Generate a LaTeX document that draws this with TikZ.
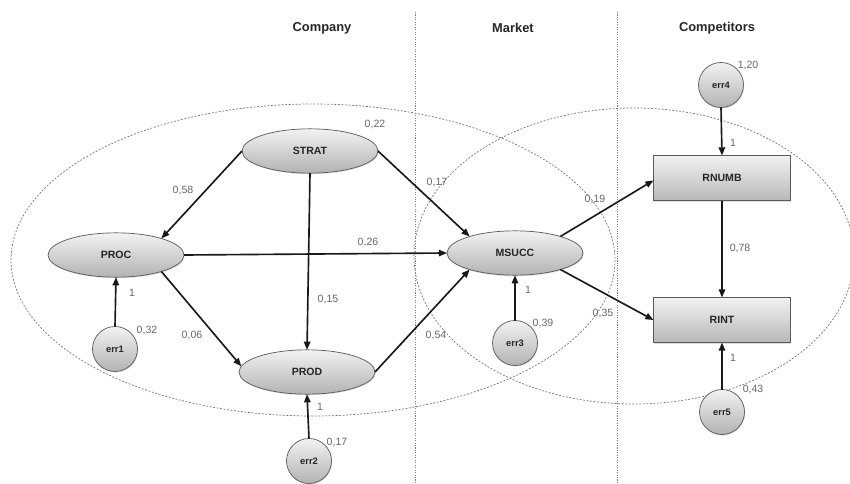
\documentclass[tikz,border=0pt]{standalone}
\usepackage{fontspec}
\setmainfont{Liberation Sans}
\usetikzlibrary{shapes.geometric,arrows.meta,shadows}

\begin{document}
\begin{tikzpicture}[x=0.03cm,y=-0.03cm,
        latent/.style={ellipse,draw=black!65,line width=0.6pt,top color=black!5,bottom color=black!30,
            minimum width=4.08cm,minimum height=1.33cm,inner sep=0pt,outer sep=0pt,
            font=\fontsize{9}{10}\selectfont\bfseries,text=black!85,
            drop shadow={opacity=0.25,shadow xshift=0.6pt,shadow yshift=-0.9pt}},
        observed/.style={rectangle,draw=black!65,line width=0.6pt,top color=black!5,bottom color=black!28,
            minimum width=4.11cm,minimum height=1.35cm,inner sep=0pt,outer sep=0pt,
            font=\fontsize{9}{10}\selectfont\bfseries,text=black!85,
            drop shadow={opacity=0.25,shadow xshift=0.6pt,shadow yshift=-0.9pt}},
        error/.style={circle,draw=black!65,line width=0.6pt,top color=black!5,bottom color=black!30,
            minimum size=1.35cm,inner sep=0pt,outer sep=0pt,
            font=\fontsize{8}{9}\selectfont\bfseries,text=black!85,
            drop shadow={opacity=0.25,shadow xshift=0.6pt,shadow yshift=-0.9pt}},
        effect/.style={-{Triangle[length=7pt,width=5.5pt]},line width=1.4pt,black!90},
        coef/.style={font=\fontsize{9}{10}\selectfont,text=black!60,inner sep=0pt},
        head/.style={font=\fontsize{11}{12}\selectfont\bfseries,text=black!85,inner sep=0pt},
        zone/.style={black!55,line width=0.6pt,dash pattern=on 1.6pt off 1.4pt},
        divider/.style={black!50,line width=0.8pt,dash pattern=on 0.9pt off 1.2pt}]
            \useasboundingbox (0,0) rectangle (850,484);
            \draw[zone] (313,260) ellipse [x radius=302, y radius=156];
            \draw[zone] (634,256) ellipse [x radius=220, y radius=148];
            \draw[divider] (415,12) -- (415,484);
            \draw[divider] (617,12) -- (617,484);
            \node[head] (company) at (322,28) {Company};
            \node[head] (market) at (513,28) {Market};
            \node[head] (competitors) at (717,28) {Competitors};
            \node[latent] (strat) at (310,151) {STRAT};
            \node[latent] (proc) at (116,255) {PROC};
            \node[latent] (msucc) at (515,253) {MSUCC};
            \node[latent] (prod) at (307,372) {PROD};
            \node[observed] (rnumb) at (722,178) {RNUMB};
            \node[observed] (rint) at (722,320) {RINT};
            \node[error] (err1) at (115,349) {err1};
            \node[error] (err2) at (309,461) {err2};
            \node[error] (err3) at (515,343) {err3};
            \node[error] (err4) at (721,85) {err4};
            \node[error] (err5) at (722,412) {err5};
            \draw[effect] (strat.west) -- (proc.20);
            \draw[effect] (strat.east) -- (msucc.160);
            \draw[effect] (strat.south) -- (prod.north);
            \draw[effect] (proc.east) -- (msucc.west);
            \draw[effect] (proc.-20) -- (prod.175);
            \draw[effect] (prod.east) -- (msucc.200);
            \draw[effect] (msucc.20) -- (rnumb.182);
            \draw[effect] (msucc.-20) -- (rint.west);
            \draw[effect] (rnumb.south) -- (rint.north);
            \draw[effect] (err1.north) -- (proc.south);
            \draw[effect] (err2.north) -- (prod.south);
            \draw[effect] (err3.north) -- (msucc.south);
            \draw[effect] (err4.south) -- (rnumb.north);
            \draw[effect] (err5.north) -- (rint.south);
            \node[coef] (vstrat) at (375,124) {0,22};
            \node[coef] (sp) at (183,190) {0,58};
            \node[coef] (pm) at (368,242) {0,26};
            \node[coef] (sd) at (328,299) {0,15};
            \node[coef] (e1p) at (132,293) {1};
            \node[coef] (ve1) at (147,330) {0,32};
            \node[coef] (pd) at (192,335) {0,06};
            \node[coef] (e2d) at (320,407) {1};
            \node[coef] (ve2) at (337,442) {0,17};
            \node[coef] (sm) at (437,182) {0,17};
            \node[coef] (mn) at (595,199) {0,19};
            \node[coef] (ni) at (740,248) {0,78};
            \node[coef] (e4n) at (733,143) {1};
            \node[coef] (e3m) at (528,290) {1};
            \node[coef] (mi) at (603,313) {0,35};
            \node[coef] (ve3) at (543,323) {0,39};
            \node[coef] (dm) at (436,335) {0,54};
            \node[coef] (e5i) at (733,358) {1};
            \node[coef] (ve5) at (753,389) {0,43};
            \node[coef] (ve4) at (748,65) {1,20};
        \end{tikzpicture}
\end{document}
